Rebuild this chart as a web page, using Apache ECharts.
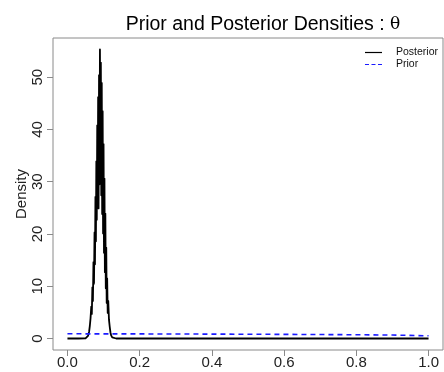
<!DOCTYPE html>
<html>
<head>
<meta charset="utf-8">
<script src="https://cdn.jsdelivr.net/npm/echarts@6/dist/echarts.min.js"></script>
<style>
  html, body { margin: 0; padding: 0; background: #fff; }
  #chart { width: 444px; height: 372px; }
</style>
</head>
<body>
<div id="chart"></div>
<script>
// Posterior density of theta (spiky kernel estimate from MCMC draws)
const posteriorX = [0, 0.03, 0.05, 0.054, 0.057, 0.060, 0.062, 0.064, 0.066, 0.0675,
  0.069, 0.0705, 0.072, 0.0735, 0.075, 0.0762, 0.0775, 0.0788, 0.080, 0.0812,
  0.0825, 0.0837, 0.085, 0.0862, 0.0875, 0.0887, 0.090, 0.0912, 0.0925, 0.0937,
  0.095, 0.0962, 0.0975, 0.0987, 0.100, 0.1012, 0.1025, 0.1037, 0.105, 0.1062,
  0.1075, 0.1087, 0.110, 0.1115, 0.113, 0.115, 0.117, 0.119, 0.121, 0.124,
  0.128, 0.135, 1.0];
const posteriorY = [0, 0, 0.02, 0.15, 0.5, 1.3, 2.4, 3.9, 6.1, 4.7,
  9.8, 7.2, 14.6, 10.5, 20.3, 14.2, 27.1, 18.6, 33.9, 22.7,
  40.8, 26.3, 46.2, 24.9, 50.4, 29.5, 55.3, 33.1, 52.8, 27.4,
  48.9, 23.8, 43.5, 20.1, 37.2, 16.4, 30.6, 12.7, 23.9, 9.6,
  17.4, 6.8, 11.5, 4.9, 7.2, 3.6, 2.3, 1.2, 0.6, 0.2,
  0.05, 0, 0];

// Prior density of theta
const priorX = [0, 0.1, 0.2, 0.3, 0.4, 0.5, 0.6, 0.7, 0.8, 0.9, 1.0];
const priorY = [0.90, 0.89, 0.88, 0.86, 0.84, 0.82, 0.79, 0.76, 0.72, 0.66, 0.52];

const xTicks = [0, 0.2, 0.4, 0.6, 0.8, 1.0];
const yTicks = [0, 10, 20, 30, 40, 50];

const FONT = '"Liberation Sans", Arial, sans-serif';
const AXIS_GRAY = '#8a8a8a';

const zip = (xs, ys) => xs.map((x, i) => [x, ys[i]]);

const chart = echarts.init(document.getElementById('chart'), null, { renderer: 'canvas' });

chart.setOption({
  animation: false,
  backgroundColor: '#fff',
  title: {
    text: '{a|Prior and Posterior Densities : }{b|θ}',
    left: 258,
    top: 10,
    textAlign: 'center',
    textStyle: {
      fontWeight: 'normal',
      rich: {
        a: { fontFamily: FONT, fontSize: 19.5, fontWeight: 'normal', color: '#000' },
        b: { fontFamily: '"DejaVu Serif", "Liberation Serif", serif', fontSize: 17, fontWeight: 'normal', color: '#000' }
      }
    }
  },
  legend: {
    orient: 'vertical',
    right: 6,
    top: 47,
    padding: 0,
    itemGap: 1,
    itemWidth: 17,
    itemHeight: 10,
    itemStyle: { opacity: 0 },
    textStyle: { fontFamily: FONT, fontSize: 10.5, color: '#111', padding: [0, 0, 0, 9] },
    data: [
      { name: 'Posterior', lineStyle: { width: 1.2 } },
      { name: 'Prior', lineStyle: { width: 1.2, type: [4, 2.5] } }
    ]
  },
  grid: {
    left: 53, top: 38, width: 390, height: 312,
    show: true, borderColor: AXIS_GRAY, borderWidth: 1, backgroundColor: 'transparent'
  },
  xAxis: {
    type: 'value',
    min: -0.04, max: 1.04,
    axisLine: { show: false, onZero: false },
    splitLine: { show: false },
    axisTick: { customValues: xTicks, inside: false, length: 6, lineStyle: { color: AXIS_GRAY } },
    axisLabel: {
      customValues: xTicks,
      formatter: v => v.toFixed(1),
      fontFamily: FONT, fontSize: 15, color: '#222', margin: 5
    }
  },
  yAxis: {
    type: 'value',
    min: -2.2, max: 57.5,
    name: 'Density',
    nameLocation: 'middle',
    nameRotate: 90,
    nameGap: 24,
    nameMoveOverlap: false,
    nameTextStyle: { fontFamily: FONT, fontSize: 15, color: '#222' },
    axisLine: { show: false, onZero: false },
    splitLine: { show: false },
    axisTick: { customValues: yTicks, inside: false, length: 6, lineStyle: { color: AXIS_GRAY } },
    axisLabel: {
      customValues: yTicks,
      rotate: 90,
      fontFamily: FONT, fontSize: 15, color: '#222', margin: 8
    }
  },
  series: [
    {
      name: 'Posterior',
      type: 'line',
      data: zip(posteriorX, posteriorY),
      showSymbol: false,
      symbol: 'none',
      lineStyle: { color: '#000', width: 1.8, join: 'round' },
      itemStyle: { color: '#000' },
      z: 2
    },
    {
      name: 'Prior',
      type: 'line',
      data: zip(priorX, priorY),
      showSymbol: false,
      symbol: 'none',
      lineStyle: { color: '#1a1aff', width: 1.6, type: [5, 4] },
      itemStyle: { color: '#1a1aff' },
      z: 3
    }
  ]
});
</script>
</body>
</html>
